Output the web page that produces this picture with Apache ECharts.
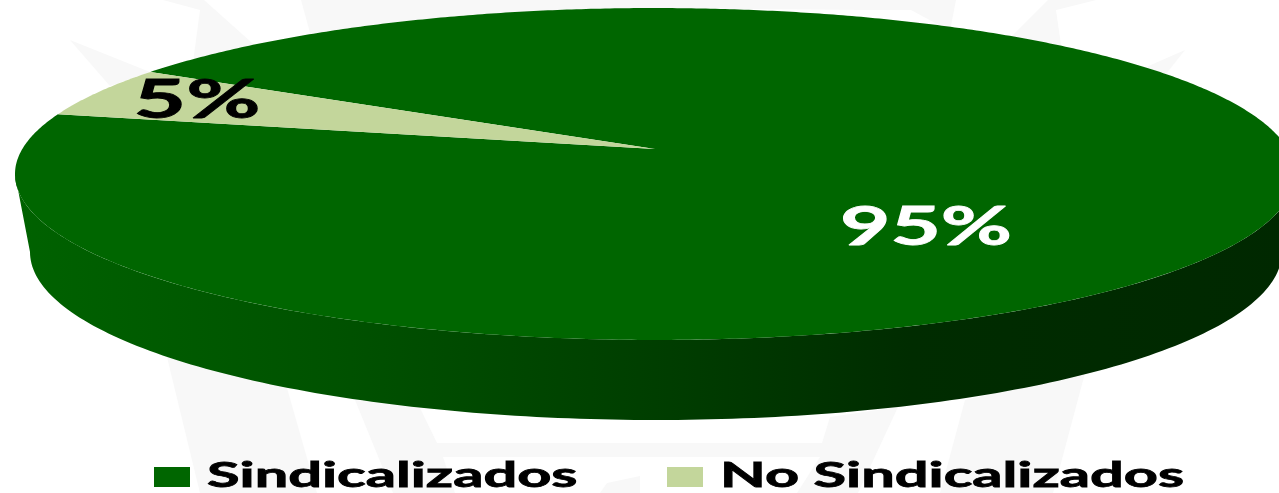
<!DOCTYPE html>
<html>
<head>
<meta charset="utf-8">
<style>
  html, body { margin: 0; padding: 0; background: #fff; overflow: hidden; }
  #chart { width: 1279px; height: 493px; }
</style>
<script src="https://cdn.jsdelivr.net/npm/echarts@6/dist/echarts.min.js"></script>
</head>
<body>
<div id="chart"></div>
<script>
const categories = ['Sindicalizados', 'No Sindicalizados'];
const shares = [95, 5];
const colors = ['#006600', '#c3d69b'];
const labelColors = ['#ffffff', '#000000'];

// where the big slice starts, degrees clockwise from 12 o'clock
const START_ANGLE = 300.8;

// perspective of the top face: apex of the pie and radii of the disc
const TOP = { x: 655, y: 149, rx: 632.7, ry: 162.2, k: 0.1506 };
// lower rim of the wall
const BOTTOM = { x: 656, y: 252, rx: 626, ry: 168 };

const LABEL_POS = [[926, 228], [197, 101]];
const LEGEND_POS = [{ box: 154, text: 207 }, { box: 667, text: 720 }];

// faint crest behind the chart
const watermark = [
  [[70, 40], [150, 72], [110, 86]],
  [[163, 0], [200, 10], [192, 70], [261, 51], [204, 0]],
  [[301, 0], [312, 40], [420, 22], [640, 8], [868, 10], [911, 10], [950, 31], [956, 0]],
  [[1048, 0], [1007, 41], [1062, 52], [1056, 10], [1096, 0]],
  [[1185, 50], [1128, 75], [1158, 84]],
  [[167, 357], [287, 388], [317, 493], [200, 493]],
  [[355, 400], [420, 408], [437, 443], [822, 443], [830, 417], [898, 407], [858, 493], [797, 493], [820, 457], [443, 457], [455, 493], [393, 493]],
  [[965, 400], [1085, 373], [1053, 493], [940, 493]],
  [[607, 483], [640, 476], [640, 493], [600, 493]],
];

const project = (deg, r = 1) => {
  const a = (deg * Math.PI) / 180;
  const u = Math.sin(a) * r;
  const v = -Math.cos(a) * r;
  const w = 1 - TOP.k * v;
  return [TOP.x + (TOP.rx * u) / w, TOP.y + (TOP.ry * v) / w];
};

const wallPoints = () => {
  const pts = [];
  const right = (Math.acos(-TOP.k) * 180) / Math.PI;
  const left = 360 - right;
  for (let deg = left; deg >= right; deg -= 1) pts.push(project(deg));
  for (let deg = 0; deg <= 180; deg += 1) {
    const a = (deg * Math.PI) / 180;
    pts.push([BOTTOM.x + BOTTOM.rx * Math.cos(a), BOTTOM.y + BOTTOM.ry * Math.sin(a)]);
  }
  return pts;
};

const total = shares.reduce((sum, d) => sum + d, 0);

const renderSlice = (params, api) => {
  const i = params.dataIndex;
  const before = shares.slice(0, i).reduce((sum, d) => sum + d, 0);
  const from = START_ANGLE + (before / total) * 360;
  const sweep = (api.value(0) / total) * 360;
  const pts = [[TOP.x, TOP.y]];
  const steps = Math.ceil(sweep * 2);
  for (let s = 0; s <= steps; s += 1) pts.push(project(from + (sweep * s) / steps));

  const children = [];
  if (i === 0) {
    children.push({
      type: 'polygon',
      shape: { points: wallPoints() },
      style: {
        fill: new echarts.graphic.LinearGradient(0, 0, 1, 0, [
          { offset: 0, color: '#006200' },
          { offset: 0.25, color: '#005200' },
          { offset: 0.5, color: '#003e00' },
          { offset: 0.7, color: '#002c00' },
          { offset: 1, color: '#002800' },
        ]),
      },
    });
  }
  children.push({
    type: 'polygon',
    shape: { points: pts },
    style: { fill: colors[i] },
  });
  children.push({
    type: 'text',
    x: LABEL_POS[i][0],
    y: LABEL_POS[i][1],
    scaleX: i === 0 ? 1.61 : 1.68,
    z2: 10,
    style: {
      text: `${Math.round((api.value(0) / total) * 100)}%`,
      font: 'bold 54px Lato',
      fill: labelColors[i],
      stroke: labelColors[i],
      lineWidth: 0.8,
      align: 'center',
      verticalAlign: 'middle',
    },
  });
  return { type: 'group', children };
};

const chart = echarts.init(document.getElementById('chart'), null, { renderer: 'canvas' });

chart.setOption({
  animation: false,
  backgroundColor: '#ffffff',
  graphic: [
    ...watermark.map((points) => ({
      type: 'polygon',
      z: 0,
      silent: true,
      shape: { points },
      style: { fill: '#f8f8f8' },
    })),
    ...categories.map((name, i) => ({
      type: 'rect',
      z: 5,
      shape: { x: LEGEND_POS[i].box, y: 467, width: 36, height: 20 },
      style: { fill: colors[i] },
    })),
    ...categories.map((name, i) => ({
      type: 'text',
      z: 5,
      x: LEGEND_POS[i].text,
      y: 476,
      scaleX: 1.75,
      style: {
        text: name,
        font: 'bold 34px Lato',
        fill: '#000000',
        stroke: '#000000',
        lineWidth: 0.8,
        align: 'left',
        verticalAlign: 'middle',
      },
    })),
  ],
  series: [
    {
      type: 'custom',
      coordinateSystem: 'none',
      z: 2,
      silent: true,
      data: shares.map((value, i) => ({ name: categories[i], value: [value] })),
      renderItem: renderSlice,
    },
  ],
});
</script>
</body>
</html>
